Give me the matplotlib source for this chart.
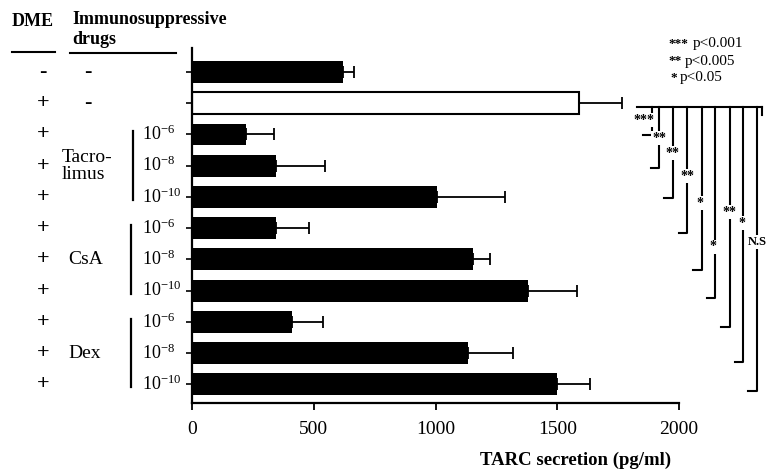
import matplotlib
matplotlib.use("Agg")
import matplotlib.pyplot as plt
import matplotlib.transforms as mtransforms

plt.rcParams['font.family'] = ['Liberation Serif', 'DejaVu Serif']
plt.rcParams['mathtext.default'] = 'regular'

# ---------------- data ----------------
dme = ["-", "+", "+", "+", "+", "+", "+", "+", "+", "+", "+"]
drug = ["-", "-", "", "", "", "", "", "", "", "", ""]
conc = ["", "", "10$^{-6}$", "10$^{-8}$", "10$^{-10}$",
        "10$^{-6}$", "10$^{-8}$", "10$^{-10}$",
        "10$^{-6}$", "10$^{-8}$", "10$^{-10}$"]
values = [620, 1590, 220, 345, 1005, 345, 1155, 1380, 410, 1135, 1500]
errors = [45, 175, 115, 200, 280, 135, 70, 200, 130, 185, 135]
groups = ["Tacro-\nlimus", "CsA", "Dex"]
group_rows = [(2, 4), (5, 7), (8, 10)]
xticks = [0, 500, 1000, 1500, 2000]
xlabel = "TARC secretion (pg/ml)"

# significance comparisons: control (row 1) vs treatment rows
sig_rows = [2, 3, 4, 5, 6, 7, 8, 9, 10]
sig_labels = ["***", "**", "**", "**", "*", "*", "**", "*", "N.S"]
sig_x = [1889, 1918, 1975, 2033, 2094, 2148, 2209, 2263, 2320]
sig_label_x = [1855, 1918, 1975, 2033, 2085, 2140, 2209, 2258, 2322]
sig_label_y = [1.54, 2.12, 2.60, 3.33, 4.20, 5.60, 4.49, 4.84, 5.45]
sig_foot_y = [2.02, 3.08, 4.04, 5.16, 6.35, 7.24, 8.17, 9.30, 10.2]
legend_lines = [("***", "p<0.001"), ("**", "p<0.005"), ("*", "p<0.05")]

# ---------------- figure ----------------
W, H = 769, 471
fig = plt.figure(figsize=(W / 100, H / 100), dpi=100)
ax = fig.add_axes([192 / W, 1 - 403 / H, 487 / W, 355 / H])

n = len(values)
rows = list(range(n))
colors = ["white" if i == 1 else "black" for i in rows]
ax.barh(rows, values, height=0.7, color=colors, edgecolor="black",
        linewidth=[1.5 if i == 1 else 0 for i in rows], zorder=2)
ax.errorbar(values, rows, xerr=[[0] * n, errors], fmt="none", ecolor="black",
            elinewidth=1.3, capsize=4.5, capthick=1.3, zorder=1)

ax.set_xlim(0, 2000)
ax.set_ylim(10.6, -0.77)
ax.set_xticks(xticks)
ax.set_xticklabels([str(t) for t in xticks], fontsize=14)
ax.set_yticks(rows)
ax.set_yticklabels([])
ax.tick_params(axis="x", length=5, width=1.3, pad=8)
ax.tick_params(axis="y", length=4, width=1.2)
for s in ["top", "right"]:
    ax.spines[s].set_visible(False)
for s in ["left", "bottom"]:
    ax.spines[s].set_linewidth(1.6)

fig.text(576 / W, 1 - 460 / H, xlabel, ha="center", va="center",
         fontsize=13.5, fontweight="bold")

# ---------------- left annotation table ----------------
trow = mtransforms.blended_transform_factory(fig.transFigure, ax.transData)
fig.text(33 / W, 1 - 22 / H, "DME", ha="center", va="center",
         fontsize=13, fontweight="bold")
fig.text(72 / W, 1 - 19 / H, "Immunosuppressive", ha="left", va="center",
         fontsize=13, fontweight="bold")
fig.text(72 / W, 1 - 40 / H, "drugs", ha="left", va="center",
         fontsize=13, fontweight="bold")
fig.add_artist(plt.Line2D([12 / W, 55 / W], [1 - 52 / H, 1 - 52 / H],
                          color="black", lw=1.5, transform=fig.transFigure))
fig.add_artist(plt.Line2D([70 / W, 176 / W], [1 - 53 / H, 1 - 53 / H],
                          color="black", lw=1.5, transform=fig.transFigure))

for i in rows:
    ax.text(43 / W, i, dme[i], transform=trow, ha="center", va="center",
            fontsize=16, fontweight="bold", clip_on=False)
    if drug[i]:
        ax.text(88 / W, i, drug[i], transform=trow, ha="center", va="center",
                fontsize=16, fontweight="bold", clip_on=False)
    if conc[i]:
        ax.text(142 / W, i, conc[i], transform=trow, ha="left", va="center",
                fontsize=13, clip_on=False)

group_line_x = [133, 131, 131]
group_text_x = [62, 68, 68]
for g, (r0, r1), lx, tx in zip(groups, group_rows, group_line_x, group_text_x):
    ax.plot([lx / W, lx / W], [r0 - 0.1, r1 + 0.1], transform=trow,
            color="black", lw=1.6, clip_on=False)
    ax.text(tx / W, (r0 + r1) / 2, g, transform=trow, ha="left", va="center",
            fontsize=14, linespacing=1.0, clip_on=False)

# ---------------- significance brackets ----------------
top_y = 1.12
ax.plot([1827, 2341], [top_y, top_y], color="black", lw=1.5, clip_on=False)
ax.plot([2341, 2341], [top_y, top_y + 0.25], color="black", lw=1.5, clip_on=False)
for xk, lab, lx, ly, fy in zip(sig_x, sig_labels, sig_label_x, sig_label_y, sig_foot_y):
    ax.plot([xk, xk, xk - 35], [top_y, fy, fy], color="black", lw=1.5,
            clip_on=False, zorder=3)
    ax.text(lx, ly, lab, ha="center", va="center",
            fontsize=9 if lab == "N.S" else 10,
            fontweight="bold", clip_on=False, zorder=4,
            bbox=dict(facecolor="white", edgecolor="none", pad=0.5))

legend_star_x = [668, 668, 670]
legend_text_x = [693, 685, 680]
for k, (st, txt) in enumerate(legend_lines):
    y = 1 - (44 + 17 * k) / H
    fig.text(legend_star_x[k] / W, y, st, ha="left", va="center", fontsize=9.5,
             fontweight="bold")
    fig.text(legend_text_x[k] / W, y, txt, ha="left", va="center", fontsize=11)

fig.savefig("out.png", dpi=100)
